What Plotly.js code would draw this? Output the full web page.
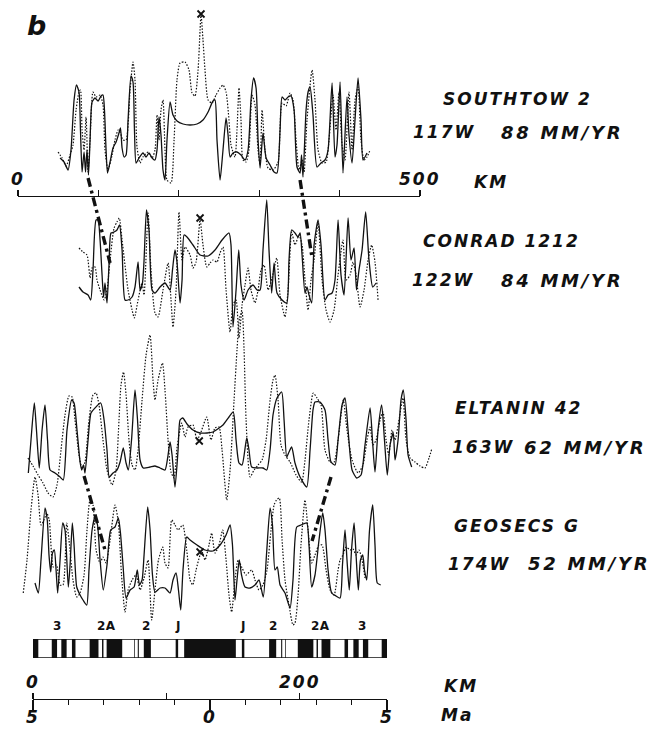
<!DOCTYPE html>
<html>
<head>
<meta charset="utf-8">
<script src="https://cdn.plot.ly/plotly-3.0.1.min.js"></script>
<style>
  html, body { margin: 0; padding: 0; background: #fff; }
  #chart { width: 653px; height: 730px; }
  .annotation-text { letter-spacing: 2px; }
  .annotation-text[style*="font-size: 18px"] { letter-spacing: 2.7px; }
  .annotation-text[style*="font-size: 12px"] { letter-spacing: 0.5px; }
</style>
</head>
<body>
<div id="chart"></div>
<script>
// Magnetic anomaly profiles across the East Pacific Rise / Pacific-Antarctic ridge.
// Distance in km (bottom KM scale), anomaly amplitude in relative units above each profile's base.

// SOUTHTOW 2
const southtowKm = [20.3,23.3,26.3,28.5,30.8,32.6,34.5,35.6,36.8,38.3,39.4,40.5,41.6,42.8,44.3,46.5,48.8,51,52.5,53.6,54.8,55.9,57.8,60,62.3,64.5,65.6,66.8,68.3,69.8,71.3,73.5,75,76.1,77.3,79.5,82.5,84.8,87,89.3,91.5,93,94.5,96,97.5,99,100.5,102.8,105,108,112.5,117.8,123,127.5,131.3,135,136.5,138,140.3,142.5,144.8,146.3,147.8,150,153,156,159,161.3,163.5,165.4,167.3,168.8,170.3,172.5,174.8,177.8,180.8,183,185.3,186.8,189,191.3,193.5,195.8,198,200.3,201.4,202.5,204.8,206.3,207.8,210,213,216,219,221.3,224.3,226.5,228,230.3,232.5,235.5,237,239.3,241.5,243.8,246,247.5,250.5];
const southtowVal = [32,28,20,40,90,105,98,60,18,38,18,40,15,50,88,92,89,94,95,80,40,17,28,42,48,57,62,42,33,35,70,114,108,60,27,32,37,33,37,32,30,40,73,55,20,10,50,88,75,69,66,65,66,70,78,89,90,50,10,40,72,55,33,37,38,35,30,40,90,112,102,50,22,57,32,25,18,17,60,93,90,93,94,80,23,17,35,13,80,98,103,75,23,27,30,40,107,33,45,108,17,93,55,27,70,112,70,30,37];
const southtowCmpKm = [18.8,21.8,24.8,27.8,30,32.3,34.5,35.6,36.8,38.3,39.8,41.3,42.8,45,47.3,50.3,52.5,54,56.3,59.3,61.5,63.8,65.3,67.5,69.8,72.8,75,76.5,78,80.3,82.5,86.3,89.3,91.5,93,94.5,96,97.5,99,100.5,103.5,105.8,108,110.3,114,117,119.3,121.5,123.8,125.3,126,127.5,129,131.3,134.3,137.3,140.3,142.5,144.8,147,148.5,151.5,153,154.5,156,157.5,159.8,162,164.3,166.5,168.8,170.3,171.8,174,176.3,180,183.8,186.8,189.8,192.8,195,197.3,199.5,201.8,203.3,205.5,209.3,211.5,213.8,216.8,219.8,222,225,227.3,229.5,231.8,234,237,239.3,241.5,243.8,246,248.3,250.5,252.8];
const southtowCmpVal = [38,32,24,35,45,80,98,100,60,40,73,18,50,98,93,95,85,40,20,35,50,60,58,50,50,100,128,110,43,27,33,38,32,40,75,50,80,90,40,10,7,50,110,127,128,120,97,94,120,160,176,150,120,90,87,95,102,105,98,70,45,33,60,102,70,30,28,40,95,85,40,25,80,40,22,20,28,87,84,97,90,50,20,30,18,70,120,90,40,27,28,50,95,60,98,45,30,98,40,90,103,50,30,33,40];

// CONRAD 1212
const conradKm = [34.5,37.5,41.3,43.3,45,47.3,48.8,50.3,51.8,52.9,54,55.5,57,58.5,60.8,63,64.9,66.8,69,71.3,74.3,76.5,78.8,80.3,82.1,83.3,85.1,87,89.3,91.5,95.3,99,102.8,104.6,106.5,108,110.3,111.8,113.3,115.5,120,125.3,131.3,136.5,141.8,147,148.5,150,152.3,154.3,156,158.3,161.3,165,168,170.3,172.5,175.3,177,179,180.8,183,186.8,190.3,192,194,196.5,198.8,200.3,201.8,204,205.5,207,209,210.8,213.8,216,219,221.3,224.3,226.5,228.8,231,233.3,236.3,238.5,240.8,242.6,244.5,246.8,249.5,252,254.8,257.3];
const conradVal = [53,48,45,40,70,120,120,100,65,43,57,37,75,107,108,110,115,90,40,40,43,53,78,50,57,80,130,110,50,47,53,57,50,70,90,78,37,60,105,103,95,85,84,90,100,107,95,13,50,90,55,40,50,55,50,50,90,140,90,47,77,47,40,37,80,110,107,103,107,85,47,53,45,37,95,120,95,40,45,47,60,120,65,45,122,80,92,50,70,90,128,80,53,57];
const conradCmpKm = [34.5,37.5,40.5,42.8,44.3,46.5,48,50.3,53.3,55.5,57.8,60.8,63,64.7,66.8,71.3,74.3,76,78.8,81.8,83.3,86.3,88.5,91.5,93.8,97.5,101.3,103.5,105,107.3,109.5,111.8,114,117.8,120,122.3,125.3,127.5,130.3,132.8,135,138,140.3,142.5,144.8,147.8,150,152.3,154.5,156.8,159,161.3,163.5,166.5,168.8,171,173.3,176.3,179.3,182.8,185.3,189,191.3,194,196.5,199.5,201.8,204,206.3,208.5,210.8,213.8,216.8,219.8,222.8,225.8,228.8,232.5,234.8,237.8,240,242.3,245.3,248.3,251.3,254,256.5,258.8];
const conradCmpVal = [92,88,85,62,72,73,60,50,40,50,80,112,118,122,100,50,30,22,40,57,45,127,70,27,23,50,77,40,13,50,128,80,93,85,72,78,120,95,73,77,80,78,87,93,50,8,35,40,2,35,55,72,50,37,50,70,75,50,62,82,45,23,50,108,95,105,95,60,30,60,80,117,60,30,18,30,65,100,60,65,78,65,33,50,80,95,78,40];

// ELTANIN 42
const eltaninKm = [-3.5,-1.5,1,2.6,4.7,6.8,9,10.9,12.8,16.5,20.3,22.7,25.5,29,30.8,33,35.3,36.5,37.9,39,41.3,43.5,46.5,50.8,53.3,55.5,57.2,60,63,65.3,67.7,69.8,71.5,73.9,76.5,78.4,80.3,82.7,87.8,91.5,95.3,99,101.3,102.8,104.3,106.5,108.8,110.3,112.3,115.5,120,125.3,130.5,135,142.5,147,150.2,152.3,154.5,156.8,160.3,162,164,168,172.5,175.3,177.8,180,183,186.5,188.3,190.3,192,194,196.5,200.3,205.3,207.8,210,211.5,215.3,219,221.3,223.5,226.5,228.8,231.8,234,236.3,239.3,242.8,246,249,252.8,254.6,256.5,258.8,261.5,263.6,265.7,267.8,270.2,271.5,273.8,276,277.7,279.8,281.3,284];
const eltaninVal = [32,65,102,75,37,75,100,65,35,32,28,25,75,105,102,75,43,35,40,32,65,92,97,102,85,55,28,32,35,43,57,42,35,65,115,85,45,37,38,39,37,35,50,63,50,18,55,85,87,81,75,72,72,73,80,88,93,65,42,40,67,55,38,37,37,35,55,90,107,113,85,48,53,58,42,28,18,55,95,103,103,95,65,43,40,65,100,107,75,35,27,30,60,97,65,33,75,100,65,30,60,72,45,65,105,115,85,50,38];
const eltaninCmpKm = [-3.8,0,3.8,7.5,11.3,15,18,21,24,27,29.3,31.5,34.5,36.8,39,42,45,47.3,49.5,52.5,55.5,59.3,62.3,64.5,66,67.9,69.8,72,74.3,76.5,78.8,81.8,84.8,87.8,90,91.5,93.8,97.1,99,101.3,103.5,105.8,108,111.5,114,116.3,120,123,126,130.3,133.5,136.5,139.5,141.8,145.3,147.8,150.8,153,154.9,156.8,158.3,159.8,162.8,165.8,168.8,171.8,174.8,177.8,180,181.5,183.8,186,189,192.8,197.3,201.5,204,207,210.2,213,216,219,222.8,225.8,228.8,232.7,235.5,239.3,243.8,247.5,250.5,252.8,255,257.3,260.3,262.5,264.8,266.8,269.3,271.5,274.5,277.5,279.8,282.8,286.5,290.3,294,297,299.3];
const eltaninCmpVal = [47,39,30,22,12,8,20,55,90,109,108,85,50,37,43,85,110,112,100,65,35,20,35,85,120,133,110,65,40,35,55,105,150,170,125,105,125,142,115,65,33,27,57,82,68,78,80,65,73,88,65,77,78,55,5,35,105,155,187,193,155,85,28,35,40,45,65,105,125,130,105,60,50,43,30,23,45,85,112,107,100,55,43,43,65,105,75,45,32,40,65,78,60,65,85,93,65,50,75,65,85,107,65,47,43,39,37,47,57];

// GEOSECS G
const geosecsKm = [1.5,4,6,9,10.7,12,13.3,14.6,16,17.3,18.5,20.3,22.3,24,26.5,27.8,29.5,30.8,32.8,35.3,37.5,40.3,42,44.3,46.5,48.4,50.3,52.7,55.5,58.3,61.5,64,65.6,67.5,69.8,72.8,75.8,78.2,79.9,81.8,83.3,86,87.8,89.6,91.5,95.3,99,102.8,105,107.3,109.1,110.8,112.5,115.3,117.8,123,129,135,140.3,144.8,147.8,149.6,151.5,153,154.7,156.4,159,162.8,166.5,169.5,172.7,175.1,177.8,179.6,181.5,183.2,185.3,189,192.8,195,197.8,201,205.3,207,209,211.5,214.5,217.3,219,221.3,224,227.3,230.3,232.1,234,235.5,237.2,238.9,240.8,242.3,244,245.6,247.3,248.6,250.3,252.4,254.8,256.5,258.2,260.8];
const geosecsVal = [47,37,70,122,110,75,58,77,80,60,37,70,107,100,43,65,107,85,43,35,30,25,60,100,113,105,70,40,65,100,103,112,97,65,32,40,43,60,45,50,75,123,100,55,38,42,42,37,50,57,40,20,60,93,90,85,80,79,85,95,105,85,30,50,70,55,43,42,45,50,33,75,122,105,60,63,45,37,22,50,103,105,107,85,43,55,90,117,100,60,37,34,32,65,100,70,40,80,107,75,40,70,75,60,50,100,125,85,47,45];
const geosecsCmpKm = [-7.3,-4.5,-1.5,1.5,3.8,6,8.3,10.3,12.2,15.2,17.6,20.3,22.5,25.3,27,30,32.8,35.3,38.3,40.5,42.8,45,47.3,50.3,52.5,54.8,57.8,61.5,64,66.4,69,71.3,74.3,77.3,80.3,83.3,86.3,89,91.5,94.1,97.3,99,101.3,104,106.5,108.8,112.3,115.3,117.8,119.8,122.3,125.3,126.8,129,132,134,136.5,139.5,142.3,144.8,147,149,151.5,153.8,156.8,159.8,164,166.5,169.5,172.5,175.5,178.5,180.8,182.6,184.7,186.8,189,192,195,196.5,198.8,201,204,206.3,209,211.5,214.5,216.8,219.8,222.8,225.8,228.8,230.3,232.5,234.8,237.8,240,242.3,244.5,246.8,249];
const geosecsCmpVal = [37,70,120,153,135,105,110,117,110,63,65,45,45,107,90,50,33,37,55,100,130,125,80,67,73,67,90,125,108,55,18,40,50,55,40,52,70,10,40,70,83,67,62,110,105,100,105,80,50,45,60,75,78,70,85,97,77,85,100,70,35,18,50,70,62,55,60,50,40,45,60,100,125,130,132,90,50,25,5,7,35,85,130,100,67,75,85,85,60,40,35,60,70,75,83,80,81,75,80,70,52];

// Ridge-axis marks (x) on each profile
const axisMarkKm  = [126, 125.3, 124.7, 125.3];
const axisMarkVal = [176, 122, 64, 78];

// Correlation lines between profiles (anomaly 2A/3 boundary)
const linkFromProfile = [0, 0, 2, 2];
const linkFromKm  = [41.3, 200.3, 38.3, 223.5];
const linkFromVal = [12, 10, 29, 28];
const linkToProfile = [1, 1, 3, 3];
const linkToKm  = [57.8, 209.3, 54, 209.3];
const linkToVal = [77, 82, 80, 89];

// Profile labels
const profileNames = ['SOUTHTOW 2', 'CONRAD 1212', 'ELTANIN 42', 'GEOSECS G'];
const profileLongitudes = ['117W', '122W', '163W', '174W'];
const profileRates = ['88 MM/YR', '84 MM/YR', '62 MM/YR', '52 MM/YR'];

// Geomagnetic polarity time scale: normal-polarity intervals (Ma, both flanks)
const normalStart = [-5.00,-4.47,-4.20,-3.90,-3.40,-3.05,-2.92,-2.14,-2.04,-1.87,-0.97,-0.73,0.90,1.67,2.01,2.12,2.48,3.01,3.15,3.80,4.05,4.32,4.85];
const normalEnd   = [-4.85,-4.32,-4.05,-3.80,-3.15,-3.01,-2.48,-2.12,-2.01,-1.67,-0.90, 0.73,0.97,1.87,2.04,2.14,2.92,3.05,3.40,3.90,4.20,4.47,5.00];
const anomalyNames = ['3', '2A', '2', 'J', 'J', '2', '2A', '3'];
const anomalyAges  = [-4.32, -2.91, -1.78, -0.90, 0.93, 1.78, 3.11, 4.32];

// Scale ticks
const maTicks = [-5, 0, 5];
const maTickText = ['5', '0', '5'];
const kmBottomTicks = [0, 100, 200];
const kmBottomLabels = [0, 200];
const kmTopTicks = [0, 100, 200, 300, 400, 500];
const kmTopLabels = [0, 500];

// ---------------------------------------------------------------------------
const W = 653, H = 730;
const INK = '#111';
function band(bottomPx, topPx) { return [(H - bottomPx) / H, (H - topPx) / H]; }
function py(px) { return (H - px) / H; }
function pxX(px) { return px / W; }

const bigFont = { family: 'DejaVu Sans, Liberation Sans, Arial, sans-serif', size: 17, color: INK, weight: 700, style: 'italic' };
const rateFont = Object.assign({}, bigFont, { size: 18 });
const smallFont = { family: 'DejaVu Sans, Liberation Sans, Arial, sans-serif', size: 12, color: INK, weight: 700 };

const layout = {
  width: W, height: H,
  margin: { l: 0, r: 0, t: 0, b: 0 },
  paper_bgcolor: '#fff', plot_bgcolor: 'rgba(0,0,0,0)',
  showlegend: false,
  xaxis: { domain: [0, 1], range: [-24.75, 465], visible: false, fixedrange: true },
  yaxis:  { domain: band(190, 0),   range: [0, 190], visible: false, fixedrange: true },
  yaxis2: { domain: band(340, 190), range: [0, 150], visible: false, fixedrange: true },
  yaxis3: { domain: band(505, 300), range: [0, 205], visible: false, fixedrange: true },
  yaxis4: { domain: band(630, 470), range: [0, 160], visible: false, fixedrange: true },
  yaxis5: { domain: band(658, 639), range: [-0.5, 0.5], visible: false, fixedrange: true, anchor: 'x2' },
  // Age axis (Ma)
  xaxis2: {
    domain: [pxX(33), pxX(387)], range: [-5, 5], anchor: 'free', position: py(699),
    showline: true, linecolor: INK, linewidth: 1.3, showgrid: false, zeroline: false,
    tickmode: 'array', tickvals: maTicks, ticks: 'outside', ticklen: 10, tickwidth: 1.3, tickcolor: INK,
    showticklabels: false,
    minor: { tickmode: 'linear', tick0: 0, dtick: 1, ticks: 'outside', ticklen: 5, tickwidth: 1.2, tickcolor: INK, showgrid: false },
    fixedrange: true
  },
  // Bottom km scale (shares the same line)
  xaxis3: {
    domain: [pxX(33), pxX(387)], range: [0, 265.5], anchor: 'free', position: py(699), side: 'top',
    showline: false, showgrid: false, zeroline: false,
    tickmode: 'array', tickvals: kmBottomTicks, ticks: 'outside', ticklen: 6, tickwidth: 1.3, tickcolor: INK,
    showticklabels: false, fixedrange: true
  },
  // Top 0-500 km scale bar
  xaxis4: {
    domain: [pxX(18), pxX(420)], range: [0, 500], anchor: 'free', position: py(196), side: 'top',
    showline: true, linecolor: INK, linewidth: 1.3, showgrid: false, zeroline: false,
    tickmode: 'array', tickvals: kmTopTicks, ticks: 'outside', ticklen: 6, tickwidth: 1.3, tickcolor: INK,
    showticklabels: false, fixedrange: true
  },
  annotations: [],
  shapes: []
};

const profileAxes = ['y', 'y2', 'y3', 'y4'];
const profileAxisKeys = ['yaxis', 'yaxis2', 'yaxis3', 'yaxis4'];
function paperFromValue(profile, v) {
  const ax = layout[profileAxisKeys[profile]];
  return ax.domain[0] + (v - ax.range[0]) / (ax.range[1] - ax.range[0]) * (ax.domain[1] - ax.domain[0]);
}

const traces = [];
const solidLine = { color: INK, width: 1.3, shape: 'spline', smoothing: 0.6 };
const dottedLine = { color: INK, width: 1.2, dash: '1.5px,1.6px', shape: 'spline', smoothing: 0.6 };
const profiles = [
  [southtowKm, southtowVal, southtowCmpKm, southtowCmpVal],
  [conradKm, conradVal, conradCmpKm, conradCmpVal],
  [eltaninKm, eltaninVal, eltaninCmpKm, eltaninCmpVal],
  [geosecsKm, geosecsVal, geosecsCmpKm, geosecsCmpVal]
];
profiles.forEach((p, i) => {
  traces.push({ type: 'scatter', mode: 'lines', x: p[2], y: p[3], xaxis: 'x', yaxis: profileAxes[i], line: dottedLine, hoverinfo: 'skip' });
  traces.push({ type: 'scatter', mode: 'lines', x: p[0], y: p[1], xaxis: 'x', yaxis: profileAxes[i], line: solidLine, hoverinfo: 'skip' });
  traces.push({ type: 'scatter', mode: 'markers', x: [axisMarkKm[i]], y: [axisMarkVal[i]], xaxis: 'x', yaxis: profileAxes[i],
    marker: { symbol: 'x-thin', size: 7, line: { width: 1.8, color: INK } }, hoverinfo: 'skip' });
});

// Polarity time scale bar
traces.push({
  type: 'bar', orientation: 'h', xaxis: 'x2', yaxis: 'y5',
  y: normalStart.map(() => 0), base: normalStart, x: normalStart.map((s, k) => normalEnd[k] - s),
  width: 1, marker: { color: INK, line: { width: 0 } }, hoverinfo: 'skip'
});
// Carriers for the two km scale axes
traces.push({ type: 'scatter', mode: 'lines', x: [], y: [], xaxis: 'x3', yaxis: 'y5', hoverinfo: 'skip' });
traces.push({ type: 'scatter', mode: 'lines', x: [], y: [], xaxis: 'x4', yaxis: 'y5', hoverinfo: 'skip' });

layout.shapes.push({ type: 'rect', xref: 'x2', yref: 'y5', x0: -5, x1: 5, y0: -0.5, y1: 0.5, line: { color: INK, width: 1.5 }, fillcolor: 'rgba(0,0,0,0)' });

// Correlation lines
for (let k = 0; k < linkFromKm.length; k++) {
  layout.shapes.push({
    type: 'line', xref: 'x', yref: 'paper',
    x0: linkFromKm[k], y0: paperFromValue(linkFromProfile[k], linkFromVal[k]),
    x1: linkToKm[k], y1: paperFromValue(linkToProfile[k], linkToVal[k]),
    line: { color: INK, width: 3.4, dash: '9px,4px,3px,4px' }
  });
}

function note(text, x, y, opts) {
  layout.annotations.push(Object.assign({
    text: text, x: x, y: y, xref: 'paper', yref: 'paper', showarrow: false,
    xanchor: 'left', yanchor: 'middle', align: 'left', font: bigFont
  }, opts || {}));
}

note('b', pxX(25), py(25), { font: Object.assign({}, bigFont, { size: 27 }) });

// Profile names and parameters
const nameLeft = [441, 421, 453, 452], nameY = [99, 241.5, 408, 526];
const lonLeft = [411, 410, 450, 446], rateLeft = [499, 499, 522, 526], rowY = [132, 280, 447, 563.5];
for (let i = 0; i < 4; i++) {
  note(profileNames[i], pxX(nameLeft[i]), py(nameY[i]));
  note(profileLongitudes[i], pxX(lonLeft[i]), py(rowY[i]));
  note(profileRates[i], pxX(rateLeft[i]), py(rowY[i]), { font: rateFont });
}

// Top km scale labels
kmTopLabels.forEach(v => note(String(v), v, py(179), { xref: 'x4', xanchor: 'center', align: 'center' }));
note('KM', pxX(472), py(182));

// Bottom km scale labels
kmBottomLabels.forEach(v => note(String(v), v, py(681.5), { xref: 'x3', xanchor: 'center', align: 'center' }));
note('KM', pxX(442), py(686));

// Age labels
maTicks.forEach((v, k) => note(maTickText[k], v, py(717), { xref: 'x2', xanchor: 'center', align: 'center' }));
note('Ma', pxX(439), py(715));

// Anomaly identifiers above the time scale
anomalyNames.forEach((t, k) => note(t, anomalyAges[k], py(626), { xref: 'x2', xanchor: 'center', align: 'center', font: smallFont }));

Plotly.newPlot('chart', traces, layout, { staticPlot: true, displayModeBar: false });
</script>
</body>
</html>
